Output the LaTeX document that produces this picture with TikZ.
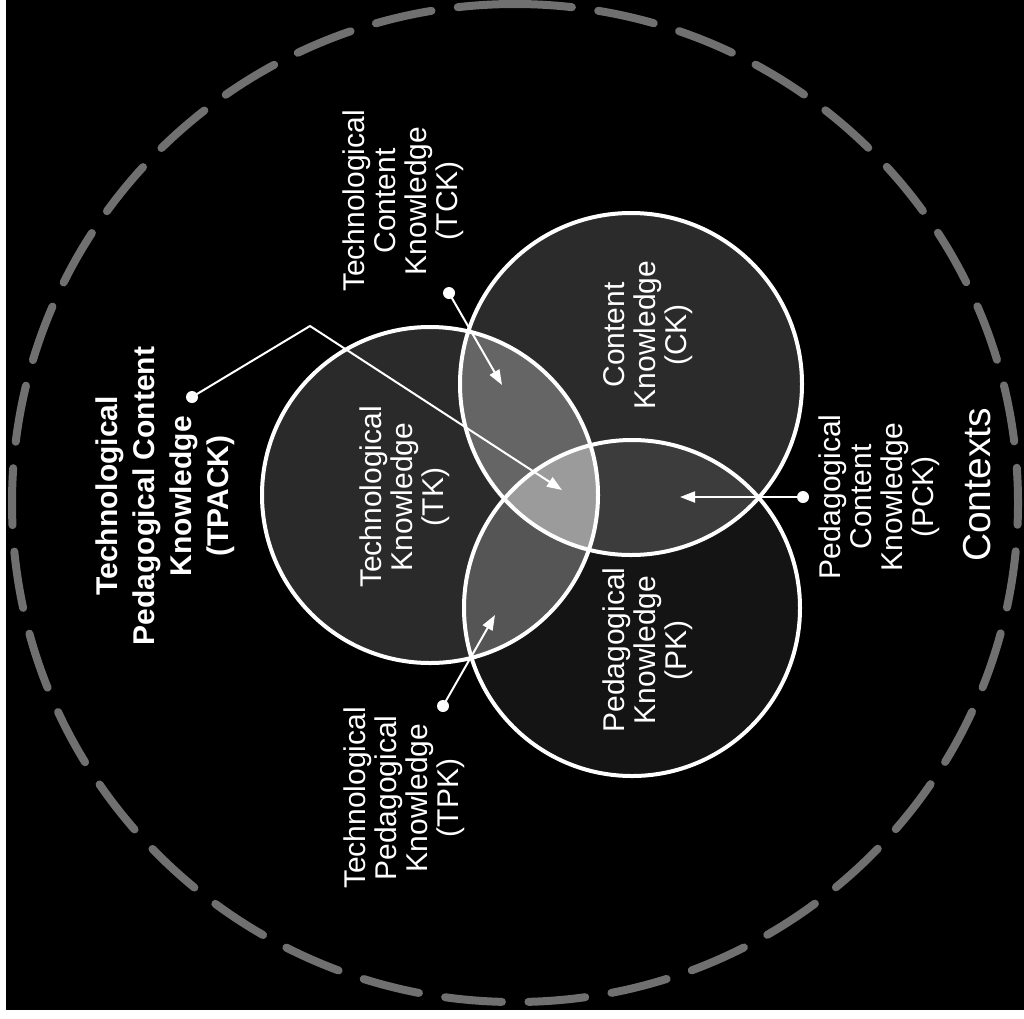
\documentclass[tikz,border=0pt]{standalone}
\usepackage{fontspec}
\setmainfont{Liberation Sans}
\usetikzlibrary{arrows.meta}

\definecolor{ctxgray}{RGB}{112,112,112}
\definecolor{tkfill}{HTML}{2A2A2A}
\definecolor{ckfill}{HTML}{2B2B2B}
\definecolor{pkfill}{HTML}{141414}
\definecolor{tckfill}{HTML}{656565}
\definecolor{tpkfill}{HTML}{555555}
\definecolor{pckfill}{HTML}{3C3C3C}
\definecolor{tpackfill}{HTML}{9B9B9B}

\begin{document}
\begin{tikzpicture}[x=1pt, y=-1pt]
            \useasboundingbox (0,0) rectangle (1024,1018);
            \fill[white] (0,0) rectangle (1024,1018);
            \fill[black] (6,0) rectangle (1024,1010);

            % contexts
            \draw[ctxgray, line width=8pt, line cap=round, dash pattern=on 57pt off 26.54pt]
                (515,4) arc [start angle=270, end angle=630, x radius=503, y radius=499];

            \coordinate (tk) at (430,495);
            \coordinate (ck) at (631,384);
            \coordinate (pk) at (632,608);

            % circles and overlaps
            \fill[tkfill] (tk) circle [radius=168];
            \fill[ckfill] (ck) circle [radius=171];
            \fill[pkfill] (pk) circle [radius=168];
            \begin{scope}
                \clip (ck) circle [radius=171];
                \fill[pckfill] (pk) circle [radius=168];
            \end{scope}
            \begin{scope}
                \clip (tk) circle [radius=168];
                \fill[tckfill] (ck) circle [radius=171];
                \fill[tpkfill] (pk) circle [radius=168];
                \clip (ck) circle [radius=171];
                \fill[tpackfill] (pk) circle [radius=168];
            \end{scope}
            \begin{scope}[every path/.style={draw=white, line width=4pt}]
                \path (tk) circle [radius=168];
                \path (ck) circle [radius=171];
                \path (pk) circle [radius=168];
            \end{scope}

            % pointers
            \begin{scope}[every node/.style={fill=white, circle, inner sep=0pt, minimum size=12pt}]
                \node (tckdot) at (449,293) {};
                \node (tpkdot) at (443,706) {};
                \node (pckdot) at (803,497) {};
                \node (tpackdot) at (192,397) {};
            \end{scope}
            \coordinate (tcktip) at (502,385);
            \coordinate (tpktip) at (495,615);
            \coordinate (pcktip) at (680,497);
            \coordinate (tpackbend) at (310,326);
            \coordinate (tpacktip) at (562,490);
            \begin{scope}[every edge/.style={draw=white, line width=2pt, -{Triangle[length=15pt, width=11pt]}}]
                \path (tckdot.center) edge (tcktip);
                \path (tpkdot.center) edge (tpktip);
                \path (pckdot.center) edge (pcktip);
            \end{scope}
            \draw[white, line width=2pt, -{Triangle[length=15pt, width=11pt]}]
                (tpackdot.center) -- (tpackbend) -- (tpacktip);

            % labels
            \begin{scope}[every node/.style={text=white, rotate=90, align=center, font=\fontsize{30}{31}\selectfont}]
                \node (tklbl) at (405,497) {Technological\\Knowledge\\(TK)};
                \node (cklbl) at (648,335) {Content\\Knowledge\\(CK)};
                \node (pklbl) at (648,650) {Pedagogical\\Knowledge\\(PK)};
                \node (tcklbl) at (403,201) {Technological\\Content\\Knowledge\\(TCK)};
                \node (tpklbl) at (404,798) {Technological\\Pedagogical\\Knowledge\\(TPK)};
                \node (pcklbl) at (879,497) {Pedagogical\\Content\\Knowledge\\(PCK)};
                \node[font=\bfseries\fontsize{30}{37}\selectfont] (tpacklbl) at (165,496)
                    {Technological\\Pedagogical Content\\Knowledge\\(TPACK)};
                \node[font=\fontsize{39}{40}\selectfont] (ctxlbl) at (977,485) {Contexts};
            \end{scope}
        \end{tikzpicture}
\end{document}
